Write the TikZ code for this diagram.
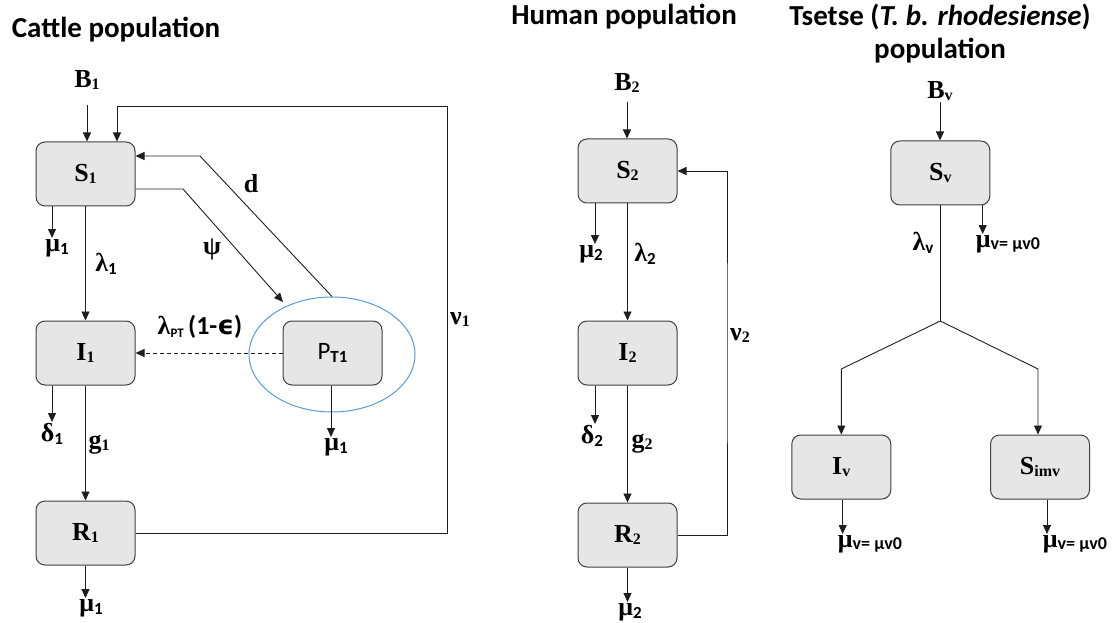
\documentclass[tikz,border=0pt]{standalone}
\usepackage{fontspec}
\usepackage{graphicx}
\setmainfont{Liberation Serif}
\newfontfamily\calib{Carlito}
\newfontfamily\djv{DejaVu Sans}
\usetikzlibrary{arrows.meta,shapes.geometric}
\definecolor{boxfill}{RGB}{230,230,230}
\definecolor{boxline}{RGB}{64,64,64}
\definecolor{linecol}{RGB}{30,30,30}
\definecolor{ellblue}{RGB}{91,155,213}
\newcommand\lblfont{\fontsize{26}{28}\selectfont\bfseries}
\newcommand\bsub[1]{\raisebox{-2pt}{\fontsize{16}{16}\selectfont\bfseries #1}}
\newcommand\ssub[1]{\raisebox{-3pt}{\calib\fontsize{17}{17}\selectfont\bfseries #1}}
\newcommand\vsub{\raisebox{-2pt}{\calib\bfseries\fontsize{18}{18}\selectfont v= μv0}}
\newcommand\titlefont{\calib\bfseries\fontsize{29}{33}\selectfont}
\begin{document}
\begin{tikzpicture}[x=1pt,y=-1pt,
  box/.style={draw=boxline, fill=boxfill, rounded corners=9pt, minimum width=99pt,
    minimum height=64pt, line width=1pt, inner sep=0pt, font=\lblfont},
  lbl/.style={inner sep=1pt, font=\lblfont},
  ttl/.style={inner sep=0pt, font=\titlefont},
  arr/.style={-{Triangle[length=9pt,width=8pt]}, line width=0.9pt, draw=linecol},
  ln/.style={line width=0.9pt, draw=linecol}]
\useasboundingbox (0,0) rectangle (1112,623);

% titles
\node[ttl] (T1) at (116,30) {Cattle population};
\node[ttl] (T2) at (624,17) {Human population};
\node[ttl] (T3) at (940,17) {Tsetse (\textit{T. b. rhodesiense})};
\node[ttl] (T4) at (940,51) {population};

% ---------------- cattle
\node[box] (S1) at (85.5,174) {S\bsub{1}};
\node[box] (I1) at (85.5,353) {I\bsub{1}};
\node[box] (R1) at (85.5,533) {R\bsub{1}};
\node[ellipse, draw=ellblue, line width=1pt, minimum width=166pt, minimum height=115pt, inner sep=0pt] (E) at (332,354.5) {};
\node[box, font=\calib\fontsize{25}{27}\selectfont] (PT1) at (332.5,353) {P\ssub{T1}};

\node[lbl] (B1) at (87,80) {B\bsub{1}};
\node[lbl, anchor=north] (muS1) at (57,238) {μ\ssub{1}};
\node[lbl] (la1) at (106,264) {λ\ssub{1}};
\node[lbl] (psi) at (212,249) {ψ};
\node[lbl] (dd) at (251,184) {d};
\node[lbl] (nu1) at (460,320) {ν\bsub{1}};
\node[lbl] (laPT) at (200,327) {λ\raisebox{-3pt}{\calib\fontsize{13}{13}\selectfont\bfseries PT}\,{\calib\bfseries (1-{\djv ϵ})}};
\node[lbl, anchor=north] (dI1) at (52,422) {δ\ssub{1}};
\node[lbl] (g1) at (99,445) {g\bsub{1}};
\node[lbl, anchor=north] (muP) at (336,437) {μ\ssub{1}};
\node[lbl, anchor=north] (muR1) at (91,598) {μ\ssub{1}};

\coordinate (c1) at (447,106);
\coordinate (dk) at (200,156);
\coordinate (pk) at (183,189);
\coordinate (pe) at (283,302);
\draw[arr, shorten <=14pt] (B1.south) -- (B1.south |- S1.north);
\draw[arr] (R1.east) -| (c1) -| ([xshift=31.5pt]S1.north);
\draw[arr] (E.north) -- (dk) -- ([yshift=18pt]S1.east);
\draw[arr] ([yshift=-15pt]S1.east) -- (pk) -- (pe);
\draw[arr] (S1) -- (I1);
\draw[arr] (I1) -- (R1);
\draw[arr, dash pattern=on 4pt off 3pt] (PT1) -- (I1);
\draw[arr] ([xshift=-33.5pt]S1.south) -- ([xshift=-33.5pt]S1.south |- muS1.north);
\draw[arr] ([xshift=-33.5pt]I1.south) -- ([xshift=-33.5pt]I1.south |- dI1.north);
\draw[arr] (R1.south) -- (R1.south |- muR1.north);
\draw[arr] ([xshift=-1.5pt]PT1.south) -- ([xshift=-1.5pt]PT1.south |- muP.north);

% ---------------- human
\node[box] (S2) at (627.5,171) {S\bsub{2}};
\node[box] (I2) at (627.5,353) {I\bsub{2}};
\node[box] (R2) at (627.5,535) {R\bsub{2}};
\node[lbl] (B2) at (627,83) {B\bsub{2}};
\node[lbl, anchor=north] (muS2) at (591,244) {μ\ssub{2}};
\node[lbl] (la2) at (645,254) {λ\ssub{2}};
\node[lbl] (nu2) at (740,336) {ν\bsub{2}};
\node[lbl, anchor=north] (dI2) at (592,424) {δ\ssub{2}};
\node[lbl] (g2) at (642,444) {g\bsub{2}};
\node[lbl, anchor=north] (muR2) at (630,602) {μ\ssub{2}};

\coordinate (c2) at (727,353);
\draw[arr, shorten <=8pt] (B2.south) -- (B2.south |- S2.north);
\draw[arr] (R2.east) -| (c2) |- (S2.east);
\draw[arr] (S2) -- (I2);
\draw[arr] (I2) -- (R2);
\draw[arr] ([xshift=-32.5pt]S2.south) -- ([xshift=-32.5pt]S2.south |- muS2.north);
\draw[arr] ([xshift=-32.5pt]I2.south) -- ([xshift=-32.5pt]I2.south |- dI2.north);
\draw[arr] (R2.south) -- (R2.south |- muR2.north);

% ---------------- tsetse
\node[box] (Sv) at (940.3,173) {S\bsub{v}};
\node[box] (Iv) at (841.3,467) {I\bsub{v}};
\node[box] (Simv) at (1040,467) {S\bsub{imv}};
\node[lbl] (Bv) at (940,91) {B\bsub{v}};
\node[lbl] (lav) at (923,243) {λ\ssub{v}};
\node[lbl, anchor=north] (muSv) at (1008,234) {μ\vsub};
\node[lbl, anchor=north] (muIv) at (870,534) {μ\vsub};
\node[lbl, anchor=north] (muSimv) at (1075,534) {μ\vsub};

\coordinate (br) at (940.3,321);
\coordinate (bl) at (841.3,369);
\coordinate (brr) at (1038,369);
\draw[arr] (Bv.south) -- (Bv.south |- Sv.north);
\draw[ln] (Sv.south) -- (br);
\draw[arr] (br) -- (bl) -- (Iv.north);
\draw[arr] (br) -- (brr) -- (brr |- Simv.north);
\draw[arr] ([xshift=42.4pt]Sv.south) -- ([xshift=42.4pt]Sv.south |- muSv.north);
\draw[arr] ([xshift=1.4pt]Iv.south) -- ([xshift=1.4pt]Iv.south |- muIv.north);
\draw[arr] ([xshift=7pt]Simv.south) -- ([xshift=7pt]Simv.south |- muSimv.north);
\end{tikzpicture}
\end{document}
